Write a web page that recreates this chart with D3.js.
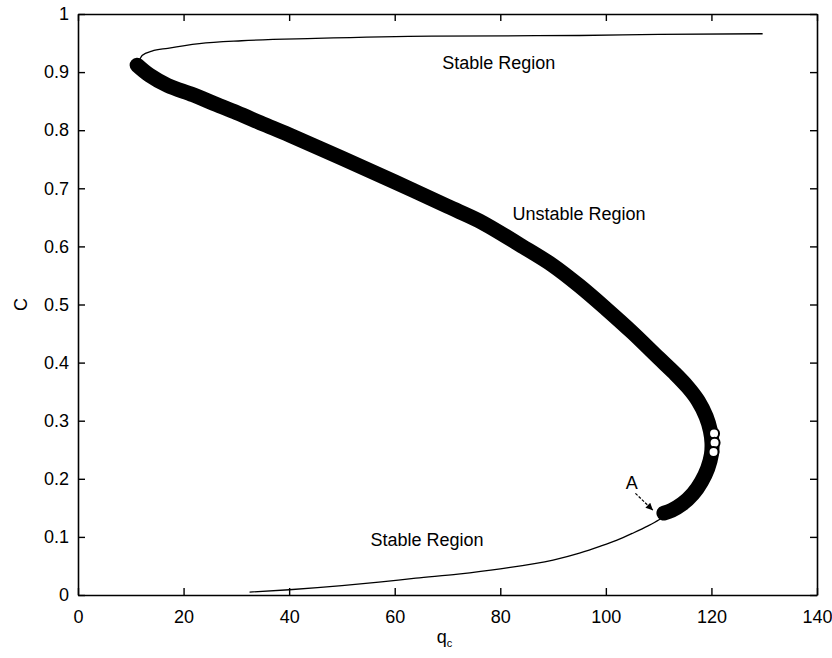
<!DOCTYPE html>
<html>
<head>
<meta charset="utf-8">
<script src="https://cdn.jsdelivr.net/npm/d3@7"></script>
<style>
  body { margin: 0; background: #fff; }
  text { font-family: "Liberation Sans", Arial, Helvetica, sans-serif; }
</style>
</head>
<body>
<script>
// Values: [q_c, C]
const topBranch = [
  [11.5, 0.918], [12.2, 0.929], [14, 0.936], [17, 0.941], [23, 0.949],
  [31, 0.954], [45, 0.958], [67, 0.962], [95, 0.963], [110, 0.965], [129.7, 0.966]
];
const unstableBranch = [
  [11.2, 0.912], [13.5, 0.895], [17, 0.877], [21.8, 0.861], [26, 0.845],
  [30.1, 0.830], [35, 0.811], [40, 0.792], [50, 0.752], [60, 0.711],
  [70, 0.669], [76, 0.644], [84, 0.601], [90, 0.567], [95, 0.532],
  [100, 0.493], [105, 0.452], [110, 0.408], [113, 0.382], [115.5, 0.358],
  [117.5, 0.334], [119, 0.307], [119.8, 0.283], [120.1, 0.262], [120, 0.242],
  [119.3, 0.218], [118.1, 0.195], [116.5, 0.174], [114.5, 0.157], [112.5, 0.146],
  [111, 0.141]
];
const noseMarks = [[120.5, 0.278], [120.6, 0.262], [120.4, 0.246]];
const bottomBranch = [
  [32.5, 0.005], [40, 0.009], [50, 0.016], [57, 0.022], [64, 0.029],
  [72, 0.036], [80, 0.045], [90, 0.060], [95, 0.072], [99, 0.084],
  [102, 0.094], [105, 0.106], [108, 0.119], [110, 0.129], [111.5, 0.138]
];
const xTicks = [0, 20, 40, 60, 80, 100, 120, 140];
const yTicks = [0, 0.1, 0.2, 0.3, 0.4, 0.5, 0.6, 0.7, 0.8, 0.9, 1];
const regionLabels = [
  { text: "Stable Region", q: 69.0, c: 0.905 },
  { text: "Unstable Region", q: 82.3, c: 0.646 },
  { text: "Stable Region", q: 55.4, c: 0.084 }
];
const pointA = { text: "A", q: 104.9, c: 0.182, from: [105.6, 0.175], to: [108.9, 0.146] };

const width = 832, height = 658;
const x = d3.scaleLinear().domain([0, 140]).range([78, 817]);
const y = d3.scaleLinear().domain([0, 1]).range([595, 14]);

const svg = d3.select("body").append("svg")
  .attr("width", width)
  .attr("height", height);

// frame with inward ticks on all sides
const fmt = d3.format(".1~f");
svg.append("g")
  .attr("transform", `translate(0,${y(0)})`)
  .call(d3.axisBottom(x).tickValues(xTicks).tickSizeInner(-7).tickSizeOuter(0).tickPadding(15));
svg.append("g")
  .attr("transform", `translate(${x(0)},0)`)
  .call(d3.axisLeft(y).tickValues(yTicks).tickFormat(fmt).tickSizeInner(-7).tickSizeOuter(0).tickPadding(9));
svg.append("g")
  .attr("transform", `translate(0,${y(1)})`)
  .call(d3.axisTop(x).tickValues(xTicks).tickFormat("").tickSizeInner(-7).tickSizeOuter(0));
svg.append("g")
  .attr("transform", `translate(${x(140)},0)`)
  .call(d3.axisRight(y).tickValues(yTicks).tickFormat("").tickSizeInner(-7).tickSizeOuter(0));

svg.selectAll(".domain").attr("stroke", "#000").attr("stroke-width", 1.6);
svg.selectAll(".tick line").attr("stroke", "#000").attr("stroke-width", 1.4);
svg.selectAll(".tick text").attr("font-size", 18).attr("fill", "#000")
  .style("font-family", "'Liberation Sans', Arial, Helvetica, sans-serif");

// axis titles
svg.append("text")
  .attr("transform", `translate(27,${y(0.5)}) rotate(-90)`)
  .attr("text-anchor", "middle")
  .attr("font-size", 18)
  .text("C");

const xl = svg.append("text")
  .attr("x", x(70) - 3)
  .attr("y", 643)
  .attr("text-anchor", "middle")
  .attr("font-size", 18);
xl.append("tspan").text("q");
xl.append("tspan").attr("font-size", 11).attr("dy", 4).text("c");

// curves
const thin = d3.line().x(d => x(d[0])).y(d => y(d[1])).curve(d3.curveMonotoneX);
svg.append("path")
  .datum(topBranch)
  .attr("d", thin)
  .attr("fill", "none")
  .attr("stroke", "#000")
  .attr("stroke-width", 1.3);

svg.append("path")
  .datum(bottomBranch)
  .attr("d", thin)
  .attr("fill", "none")
  .attr("stroke", "#000")
  .attr("stroke-width", 1.3);

const band = d3.line().x(d => x(d[0])).y(d => y(d[1])).curve(d3.curveCatmullRom);
svg.append("path")
  .datum(unstableBranch)
  .attr("d", band)
  .attr("fill", "none")
  .attr("stroke", "#000")
  .attr("stroke-width", 15)
  .attr("stroke-linecap", "round")
  .attr("stroke-linejoin", "round");

svg.append("g")
  .selectAll("circle")
  .data(noseMarks)
  .join("circle")
  .attr("cx", d => x(d[0]))
  .attr("cy", d => y(d[1]))
  .attr("r", 5)
  .attr("fill", "#fff")
  .attr("stroke", "#000")
  .attr("stroke-width", 2);

// region labels
svg.append("g")
  .selectAll("text")
  .data(regionLabels)
  .join("text")
  .attr("x", d => x(d.q))
  .attr("y", d => y(d.c))
  .attr("font-size", 18)
  .text(d => d.text);

// point A with arrow
svg.append("defs").append("marker")
  .attr("id", "arrow")
  .attr("viewBox", "0 0 10 10")
  .attr("refX", 10).attr("refY", 5)
  .attr("markerWidth", 9).attr("markerHeight", 7)
  .attr("markerUnits", "userSpaceOnUse")
  .attr("orient", "auto")
  .append("path")
  .attr("d", "M0,0L10,5L0,10Z")
  .attr("fill", "#000");

svg.append("line")
  .attr("x1", x(pointA.from[0])).attr("y1", y(pointA.from[1]))
  .attr("x2", x(pointA.to[0])).attr("y2", y(pointA.to[1]))
  .attr("stroke", "#000")
  .attr("stroke-width", 1.2)
  .attr("stroke-dasharray", "3,1.5")
  .attr("marker-end", "url(#arrow)");

svg.append("text")
  .attr("x", x(pointA.q))
  .attr("y", y(pointA.c))
  .attr("text-anchor", "middle")
  .attr("font-size", 18)
  .text(pointA.text);
</script>
</body>
</html>
